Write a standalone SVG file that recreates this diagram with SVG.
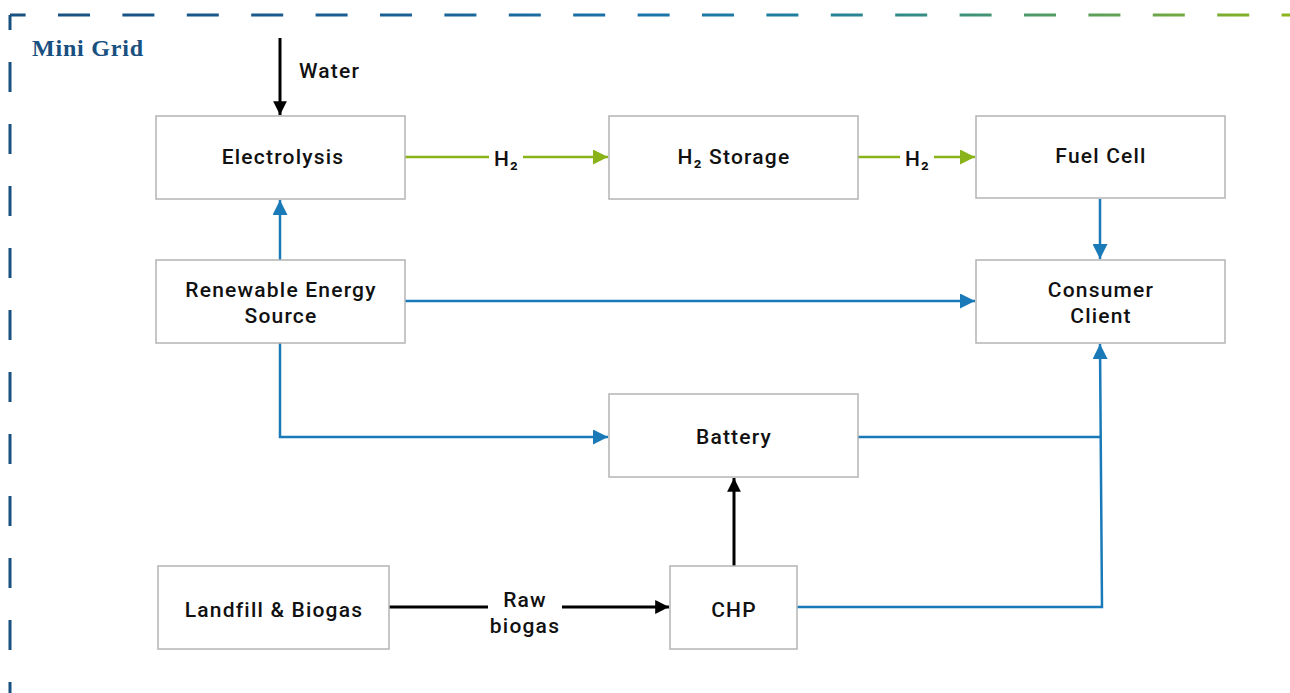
<svg xmlns="http://www.w3.org/2000/svg" width="1290" height="693" viewBox="0 0 1290 693">
  <defs>
    <linearGradient id="borderGrad" gradientUnits="userSpaceOnUse" x1="0" y1="0" x2="1290" y2="0">
      <stop offset="0" stop-color="#18507f"/>
      <stop offset="0.3" stop-color="#1a5f95"/>
      <stop offset="0.5" stop-color="#1a74ab"/>
      <stop offset="0.62" stop-color="#1f7f9e"/>
      <stop offset="0.75" stop-color="#3d9279"/>
      <stop offset="0.88" stop-color="#66a44f"/>
      <stop offset="1" stop-color="#8cb51a"/>
    </linearGradient>
    <marker id="arrBlue" viewBox="0 0 10 10" refX="10" refY="5" markerWidth="6" markerHeight="6" markerUnits="strokeWidth" orient="auto">
      <path d="M0,0 L10,5 L0,10 z" fill="#1a7ab8"/>
    </marker>
    <marker id="arrGreen" viewBox="0 0 10 10" refX="10" refY="5" markerWidth="6" markerHeight="6" markerUnits="strokeWidth" orient="auto">
      <path d="M0,0 L10,5 L0,10 z" fill="#8ab31a"/>
    </marker>
    <marker id="arrBlack" viewBox="0 0 10 10" refX="10" refY="5" markerWidth="5.2" markerHeight="4.6" markerUnits="strokeWidth" orient="auto">
      <path d="M0,0 L10,5 L0,10 z" fill="#000"/>
    </marker>
  </defs>
  <style>
    .box { fill: #fff; stroke: #b4b4b4; stroke-width: 1.5; }
    .lbl { font-family: Roboto, "Liberation Sans", sans-serif; font-weight: 500; font-size: 21px; fill: #111; text-anchor: middle; letter-spacing: 1.2px; }
    .clbl { font-family: Roboto, "Liberation Sans", sans-serif; font-weight: 500; font-size: 21px; fill: #111; letter-spacing: 1.2px; }
    .blue { fill: none; stroke: #1a7ab8; stroke-width: 2.5; }
    .green { fill: none; stroke: #8ab31a; stroke-width: 2.5; }
    .black { fill: none; stroke: #000; stroke-width: 3; }
    .title { font-family: "Liberation Serif", serif; font-weight: bold; font-size: 24px; fill: #18507f; letter-spacing: 0.8px; }
  </style>

  <g id="border">
    <path d="M10,15 L1290,15" fill="none" stroke="url(#borderGrad)" stroke-width="3" stroke-dasharray="32 32.4" stroke-dashoffset="16.4"/>
    <path d="M10,15 L10,693" fill="none" stroke="#18507f" stroke-width="3" stroke-dasharray="30 32" stroke-dashoffset="15"/>
    <text class="title" x="32" y="56">Mini Grid</text>
  </g>

  <g id="connectors">
    <path class="black" d="M280,38 L280,115" marker-end="url(#arrBlack)"/>
    <text class="clbl" x="299" y="78">Water</text>

    <path class="green" d="M405,157 L489,157"/>
    <path class="green" d="M523,157 L608,157" marker-end="url(#arrGreen)"/>
    <text class="clbl" x="494" y="166">H₂</text>

    <path class="green" d="M858,157 L900,157"/>
    <path class="green" d="M934,157 L975,157" marker-end="url(#arrGreen)"/>
    <text class="clbl" x="905" y="166">H₂</text>

    <path class="blue" d="M280,260 L280,200" marker-end="url(#arrBlue)"/>
    <path class="blue" d="M405,301 L975,301" marker-end="url(#arrBlue)"/>
    <path class="blue" d="M280,343 L280,437 L608,437" marker-end="url(#arrBlue)"/>
    <path class="blue" d="M1100,199 L1100,259" marker-end="url(#arrBlue)"/>
    <path class="blue" d="M858,437 L1100,437"/>
    <path class="blue" d="M797,607 L1102,607 L1100,344" marker-end="url(#arrBlue)"/>

    <path class="black" d="M734,566 L734,478" marker-end="url(#arrBlack)"/>
    <path class="black" d="M389,607 L488,607"/>
    <path class="black" d="M562,607 L669,607" marker-end="url(#arrBlack)"/>
    <text class="lbl" x="525" y="607">Raw</text>
    <text class="lbl" x="525" y="633">biogas</text>
  </g>

  <g id="electrolysis">
    <rect class="box" x="156" y="116" width="249" height="83"/>
    <text class="lbl" x="283" y="164">Electrolysis</text>
  </g>
  <g id="h2storage">
    <rect class="box" x="609" y="116" width="249" height="83"/>
    <text class="lbl" x="734" y="164">H₂ Storage</text>
  </g>
  <g id="fuelcell">
    <rect class="box" x="976" y="116" width="249" height="82"/>
    <text class="lbl" x="1101" y="163">Fuel Cell</text>
  </g>
  <g id="renewable">
    <rect class="box" x="156" y="260" width="249" height="83"/>
    <text class="lbl" x="281" y="297">Renewable Energy</text>
    <text class="lbl" x="281" y="323">Source</text>
  </g>
  <g id="consumer">
    <rect class="box" x="976" y="260" width="249" height="83"/>
    <text class="lbl" x="1101" y="297">Consumer</text>
    <text class="lbl" x="1101" y="323">Client</text>
  </g>
  <g id="battery">
    <rect class="box" x="609" y="394" width="249" height="83"/>
    <text class="lbl" x="734" y="444">Battery</text>
  </g>
  <g id="landfill">
    <rect class="box" x="158" y="566" width="231" height="83"/>
    <text class="lbl" x="274" y="617">Landfill &amp; Biogas</text>
  </g>
  <g id="chp">
    <rect class="box" x="670" y="566" width="127" height="83"/>
    <text class="lbl" x="734" y="617">CHP</text>
  </g>
</svg>
